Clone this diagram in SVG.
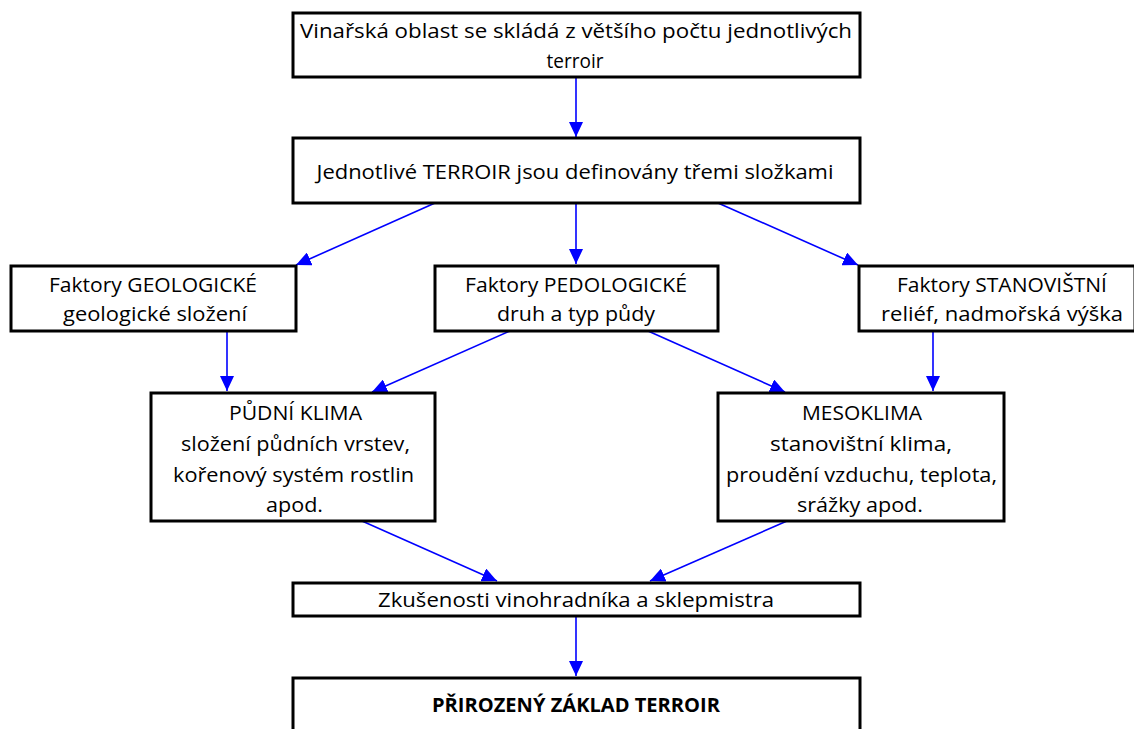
<svg xmlns="http://www.w3.org/2000/svg" width="1134" height="729" viewBox="0 0 1134 729">
  <style>
    .box { fill: #ffffff; stroke: #000000; stroke-width: 3; }
    .t { font-family: "Open Sans", "Liberation Sans", sans-serif; font-size: 19.5px; fill: #000000; text-anchor: middle; }
    .b { font-weight: bold; font-size: 19px; }
    .c { stroke: #0000ff; stroke-width: 1.6; fill: none; marker-end: url(#ah); }
  </style>
  <defs>
    <marker id="ah" markerUnits="userSpaceOnUse" markerWidth="16" markerHeight="14" refX="15" refY="7" orient="auto">
      <path d="M0,0 L15,7 L0,14 Z" fill="#0000ff"/>
    </marker>
  </defs>
  <rect width="1134" height="729" fill="#ffffff"/>

  <g id="connectors">
    <line class="c" x1="576" y1="78" x2="576" y2="137"/>
    <line class="c" x1="435" y1="203" x2="296" y2="265"/>
    <line class="c" x1="576" y1="204" x2="576" y2="264"/>
    <line class="c" x1="718" y1="203" x2="858" y2="265"/>
    <line class="c" x1="227" y1="332" x2="227" y2="391"/>
    <line class="c" x1="510" y1="331" x2="372" y2="392"/>
    <line class="c" x1="648" y1="331" x2="785" y2="392"/>
    <line class="c" x1="933" y1="332" x2="933" y2="391"/>
    <line class="c" x1="362" y1="521" x2="497" y2="581"/>
    <line class="c" x1="787" y1="521" x2="650" y2="581"/>
    <line class="c" x1="576" y1="617" x2="576" y2="676"/>
  </g>

  <g id="n1">
    <rect class="box" x="293" y="13" width="567" height="64"/>
    <text class="t" x="576" y="38" textLength="552" lengthAdjust="spacingAndGlyphs">Vinařská oblast se skládá z většího počtu jednotlivých</text>
    <text class="t" x="575" y="68" textLength="57" lengthAdjust="spacingAndGlyphs">terroir</text>
  </g>
  <g id="n2">
    <rect class="box" x="293" y="138" width="567" height="65"/>
    <text class="t" x="575" y="179" textLength="517" lengthAdjust="spacingAndGlyphs">Jednotlivé TERROIR jsou definovány třemi složkami</text>
  </g>
  <g id="n3">
    <rect class="box" x="11" y="266" width="285" height="65"/>
    <text class="t" x="153" y="292" textLength="208" lengthAdjust="spacingAndGlyphs">Faktory GEOLOGICKÉ</text>
    <text class="t" x="155" y="321" textLength="184" lengthAdjust="spacingAndGlyphs">geologické složení</text>
  </g>
  <g id="n4">
    <rect class="box" x="435" y="266" width="283" height="65"/>
    <text class="t" x="576" y="292" textLength="222" lengthAdjust="spacingAndGlyphs">Faktory PEDOLOGICKÉ</text>
    <text class="t" x="576" y="321" textLength="158" lengthAdjust="spacingAndGlyphs">druh a typ půdy</text>
  </g>
  <g id="n5">
    <rect class="box" x="859" y="266" width="276" height="65"/>
    <text class="t" x="1002" y="292" textLength="210" lengthAdjust="spacingAndGlyphs">Faktory STANOVIŠTNÍ</text>
    <text class="t" x="1002" y="321" textLength="242" lengthAdjust="spacingAndGlyphs">reliéf, nadmořská výška</text>
  </g>
  <g id="n6">
    <rect class="box" x="151" y="393" width="284" height="128"/>
    <text class="t" x="295.5" y="420" textLength="133" lengthAdjust="spacingAndGlyphs">PŮDNÍ KLIMA</text>
    <text class="t" x="295.5" y="451" textLength="229" lengthAdjust="spacingAndGlyphs">složení půdních vrstev,</text>
    <text class="t" x="293.5" y="482" textLength="241" lengthAdjust="spacingAndGlyphs">kořenový systém rostlin</text>
    <text class="t" x="294.5" y="512" textLength="57" lengthAdjust="spacingAndGlyphs">apod.</text>
  </g>
  <g id="n7">
    <rect class="box" x="718" y="393" width="286" height="128"/>
    <text class="t" x="862" y="420" textLength="120" lengthAdjust="spacingAndGlyphs">MESOKLIMA</text>
    <text class="t" x="861" y="451" textLength="182" lengthAdjust="spacingAndGlyphs">stanovištní klima,</text>
    <text class="t" x="861.5" y="482" textLength="271" lengthAdjust="spacingAndGlyphs">proudění vzduchu, teplota,</text>
    <text class="t" x="860" y="512" textLength="126" lengthAdjust="spacingAndGlyphs">srážky apod.</text>
  </g>
  <g id="n8">
    <rect class="box" x="293" y="583" width="567" height="33"/>
    <text class="t" x="576" y="607" textLength="396" lengthAdjust="spacingAndGlyphs">Zkušenosti vinohradníka a sklepmistra</text>
  </g>
  <g id="n9">
    <rect class="box" x="293" y="678" width="567" height="60"/>
    <text class="t b" x="576" y="712" textLength="288" lengthAdjust="spacingAndGlyphs">PŘIROZENÝ ZÁKLAD TERROIR</text>
  </g>
</svg>
